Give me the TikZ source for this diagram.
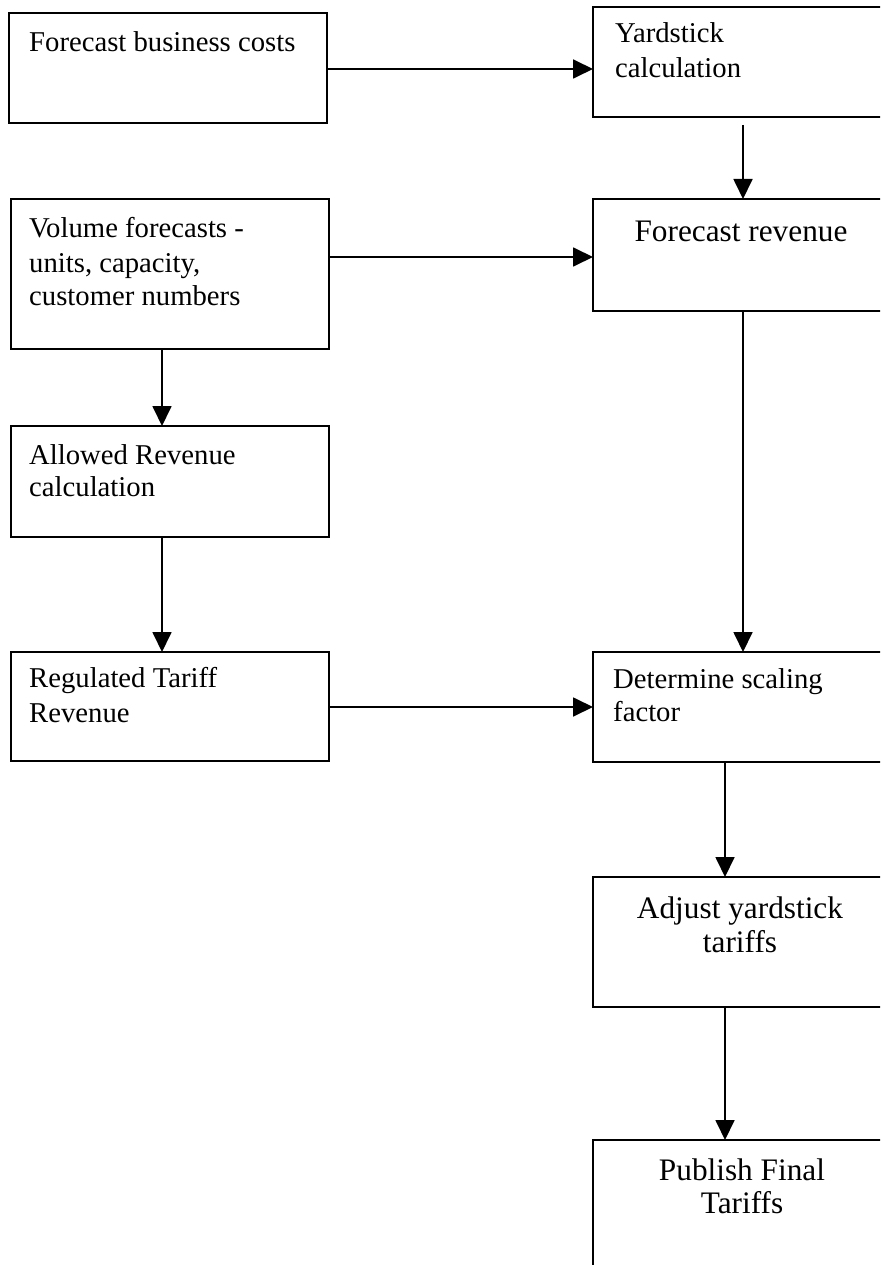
\documentclass[tikz,border=0pt]{standalone}
\usepackage{fontspec}
\setmainfont{Liberation Serif}
\usetikzlibrary{arrows.meta}
\tikzset{
  stepbox/.style={draw=black, line width=1.8pt, rectangle, inner sep=0pt, outer sep=0pt, anchor=north west},
  lefttxt/.style={inner sep=0pt, anchor=base west, font=\fontsize{28.7}{35}\selectfont},
  midtxt/.style={inner sep=0pt, anchor=base, font=\fontsize{31.3}{35}\selectfont},
  flow/.style={line width=1.8pt, -{Triangle[length=20pt,width=19pt]}}
}
\begin{document}
\begin{tikzpicture}[x=1pt,y=-1pt]
\clip (0,0) rectangle (880,1265);
\fill[white] (0,0) rectangle (880,1265);
% boxes
\node[stepbox, minimum width=318pt, minimum height=110pt] (b1) at (9,13) {};
\node[stepbox, minimum width=297pt, minimum height=110pt] (yard) at (593,7) {};
\node[stepbox, minimum width=318pt, minimum height=150pt] (vol) at (11,199) {};
\node[stepbox, minimum width=297pt, minimum height=112pt] (fr) at (593,199) {};
\node[stepbox, minimum width=318pt, minimum height=111pt] (allow) at (11,426) {};
\node[stepbox, minimum width=318pt, minimum height=109pt] (reg) at (11,652) {};
\node[stepbox, minimum width=297pt, minimum height=110pt] (det) at (593,652) {};
\node[stepbox, minimum width=297pt, minimum height=130pt] (adj) at (593,877) {};
\node[stepbox, minimum width=297pt, minimum height=200pt] (pub) at (593,1140) {};
% texts
\node[lefttxt] (t1) at ([shift={(20,39)}]b1.north west) {Forecast business costs};
\node[lefttxt] (t2a) at ([shift={(22,36)}]yard.north west) {Yardstick};
\node[lefttxt] (t2b) at ([shift={(22,71)}]yard.north west) {calculation};
\node[lefttxt] (t3a) at ([shift={(18,38)}]vol.north west) {Volume forecasts -};
\node[lefttxt] (t3b) at ([shift={(18,73)}]vol.north west) {units, capacity,};
\node[lefttxt] (t3c) at ([shift={(18,106)}]vol.north west) {customer numbers};
\node[midtxt] (t4) at ([shift={(148,43)}]fr.north west) {Forecast revenue};
\node[lefttxt] (t5a) at ([shift={(18,38)}]allow.north west) {Allowed Revenue};
\node[lefttxt] (t5b) at ([shift={(18,70)}]allow.north west) {calculation};
\node[lefttxt] (t6a) at ([shift={(18,35)}]reg.north west) {Regulated Tariff};
\node[lefttxt] (t6b) at ([shift={(18,70)}]reg.north west) {Revenue};
\node[lefttxt] (t7a) at ([shift={(20,36)}]det.north west) {Determine scaling};
\node[lefttxt] (t7b) at ([shift={(20,69)}]det.north west) {factor};
\node[midtxt] (t8a) at ([shift={(147,41)}]adj.north west) {Adjust yardstick};
\node[midtxt] (t8b) at ([shift={(147,75)}]adj.north west) {tariffs};
\node[midtxt] (t9a) at ([shift={(149,40)}]pub.north west) {Publish Final};
\node[midtxt] (t9b) at ([shift={(149,73)}]pub.north west) {Tariffs};
% connector anchor points
\coordinate (c1) at ([yshift=-1pt]b1.east);
\coordinate (c2s) at ([shift={(150,8)}]yard.south west);
\coordinate (c3) at ([yshift=-2pt]fr.west);
\coordinate (c4) at ([xshift=151pt]vol.south west);
\coordinate (c5) at ([xshift=151pt]allow.south west);
\coordinate (c6) at ([xshift=150pt]fr.south west);
\coordinate (c7) at ([xshift=132pt]det.south west);
\coordinate (c8) at ([xshift=132pt]adj.south west);
\coordinate (c9) at ([yshift=-0.5pt]reg.east);
% connectors
\draw[flow] (c1) -- (c1 -| yard.west);
\draw[flow] (c2s) -- (c2s |- fr.north);
\draw[flow] (c3 -| vol.east) -- (c3);
\draw[flow] (c4) -- (c4 |- allow.north);
\draw[flow] (c5) -- (c5 |- reg.north);
\draw[flow] (c6) -- (c6 |- det.north);
\draw[flow] (c9) -- (c9 -| det.west);
\draw[flow] (c7) -- (c7 |- adj.north);
\draw[flow] (c8) -- (c8 |- pub.north);
\end{tikzpicture}
\end{document}
